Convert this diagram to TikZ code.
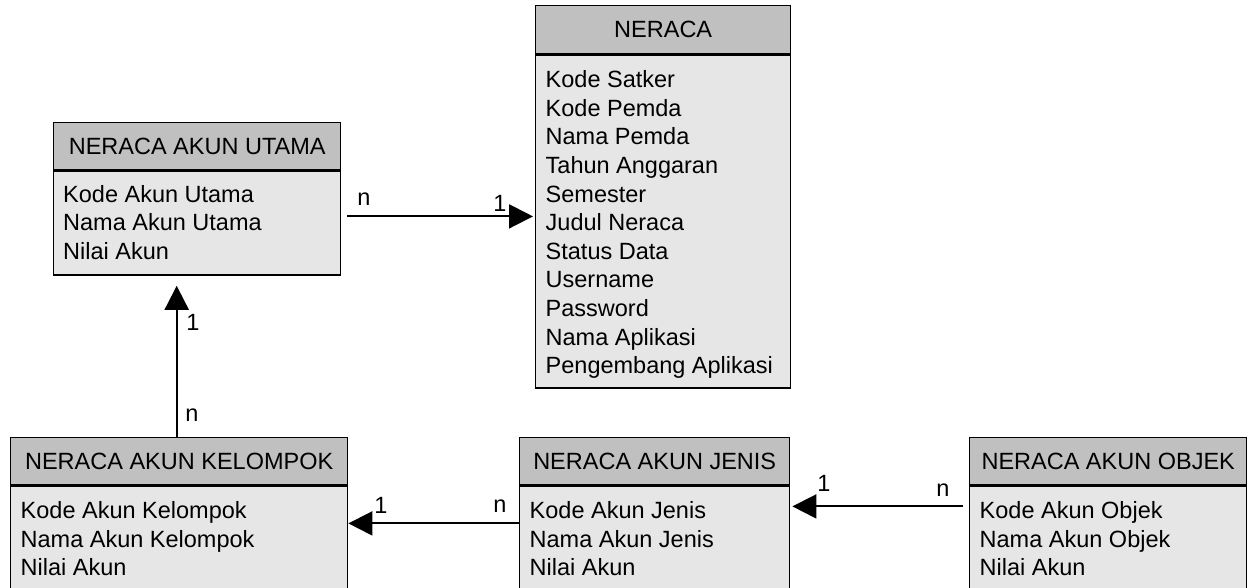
\documentclass[tikz,border=0pt]{standalone}
\usepackage{fontspec}
\setmainfont{Liberation Sans}
\usetikzlibrary{arrows.meta,calc}
\definecolor{hdrgray}{RGB}{192,192,192}
\definecolor{bodygray}{RGB}{230,230,230}
\tikzset{
  hdr/.style={draw=black, line width=1.4pt, fill=hdrgray, minimum height=48pt, inner sep=0pt, anchor=north west,
              font=\fontsize{23.5}{28.6}\selectfont},
  bodybox/.style={draw=black, line width=1.4pt, fill=bodygray, inner sep=0pt, anchor=north west},
  fields/.style={inner sep=0pt, anchor=north west, align=left, font=\fontsize{23.5}{28.6}\selectfont},
  conn/.style={line width=2pt, -{Triangle[length=24pt,width=24pt]}},
  lbl/.style={inner sep=0pt, font=\fontsize{23.5}{28}\selectfont}
}
\begin{document}
\begin{tikzpicture}[x=1pt,y=-1pt]
\useasboundingbox (0,0) rectangle (1247,588);
% NERACA
\node[hdr, minimum width=255pt] (neraca) at (535,5) {NERACA};
\node[bodybox, minimum width=255pt, minimum height=333pt] (neracab) at (neraca.south west) {};
\node[fields] (neracaf) at ($(neracab.north west)+(10.5,16)$) {Kode Satker\\Kode Pemda\\Nama Pemda\\Tahun Anggaran\\Semester\\Judul Neraca\\Status Data\\Username\\Password\\Nama Aplikasi\\Pengembang Aplikasi};
% NERACA AKUN UTAMA
\node[hdr, minimum width=287pt, minimum height=47pt] (utama) at (53,122) {NERACA AKUN UTAMA};
\node[bodybox, minimum width=287pt, minimum height=104pt] (utamab) at (utama.south west) {};
\node[fields] (utamaf) at ($(utamab.north west)+(10,14.5)$) {Kode Akun Utama\\Nama Akun Utama\\Nilai Akun};
% NERACA AKUN KELOMPOK
\node[hdr, minimum width=337pt, minimum height=47pt] (kelompok) at (10,437) {NERACA AKUN KELOMPOK};
\node[bodybox, minimum width=337pt, minimum height=130pt] (kelompokb) at (kelompok.south west) {};
\node[fields] (kelompokf) at ($(kelompokb.north west)+(10.5,16)$) {Kode Akun Kelompok\\Nama Akun Kelompok\\Nilai Akun};
% NERACA AKUN JENIS
\node[hdr, minimum width=270pt, minimum height=47pt] (jenis) at (519,437) {NERACA AKUN JENIS};
\node[bodybox, minimum width=270pt, minimum height=130pt] (jenisb) at (jenis.south west) {};
\node[fields] (jenisf) at ($(jenisb.north west)+(10.5,16)$) {Kode Akun Jenis\\Nama Akun Jenis\\Nilai Akun};
% NERACA AKUN OBJEK
\node[hdr, minimum width=277pt, minimum height=47pt] (objek) at (969,437) {NERACA AKUN OBJEK};
\node[bodybox, minimum width=277pt, minimum height=130pt] (objekb) at (objek.south west) {};
\node[fields] (objekf) at ($(objekb.north west)+(10.5,16)$) {Kode Akun Objek\\Nama Akun Objek\\Nilai Akun};
% connectors
\coordinate (c1s) at ($(utamab.north east)+(6,46)$);
\draw[conn] (c1s) -- ($(neracab.north west |- c1s)+(-2,0)$);
\coordinate (c2s) at ([xshift=-2.5pt]kelompok.north);
\draw[conn, shorten >=10pt] (c2s) -- (c2s |- utamab.south);
\coordinate (c3s) at ($(jenisb.north west)+(0,38)$);
\draw[conn] (c3s) -- (kelompokb.east |- c3s);
\coordinate (c4s) at ($(objekb.north west)+(-6,21)$);
\draw[conn] (c4s) -- ($(jenisb.east |- c4s)+(2,0)$);
% labels
\node[lbl] (l1n) at (364,199) {n};
\node[lbl] (l11) at (500,203) {1};
\node[lbl] (l21) at (193,322) {1};
\node[lbl] (l2n) at (192,415) {n};
\node[lbl] (l31) at (381,505) {1};
\node[lbl] (l3n) at (500,506) {n};
\node[lbl] (l41) at (824,483) {1};
\node[lbl] (l4n) at (943,490) {n};
\end{tikzpicture}
\end{document}
